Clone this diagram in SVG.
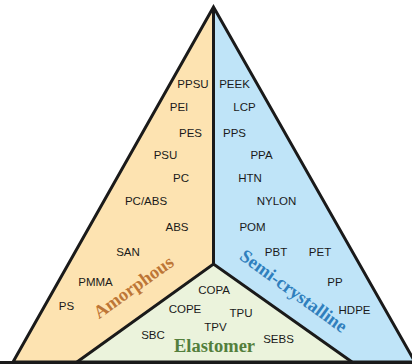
<svg xmlns="http://www.w3.org/2000/svg" width="412" height="364" viewBox="0 0 412 364">
<style>
.lbl{font-family:"Liberation Sans",Arial,sans-serif;font-size:11.5px;fill:#1a1a1a;text-anchor:middle}
.cat{font-family:"Liberation Serif","Times New Roman",serif;font-size:18.5px;font-weight:bold;text-anchor:middle}
.edge{fill:none;stroke:#1a1a1a;stroke-width:3;stroke-linejoin:miter}
</style>
<rect width="412" height="364" fill="#ffffff"/>
<g id="amorphous">
<polygon points="213.5,7 13,362 77,362 213.5,264" fill="#fde3b1"/>
</g>
<g id="semi-crystalline">
<polygon points="213.5,7 415,362 352,362 213.5,264" fill="#bfe4f8"/>
</g>
<g id="elastomer">
<polygon points="213.5,264 77,362 352,362" fill="#ebf3dc"/>
</g>
<g id="connectors">
<polygon class="edge" points="213.5,7 13,362 415,362"/>
<line class="edge" x1="213.5" y1="7" x2="213.5" y2="264"/>
<polyline class="edge" stroke-width="2.6" points="77,362 213.5,264 352,362"/>
<line class="edge" x1="0" y1="362.5" x2="412" y2="362.5"/>
</g>
<g id="amorphous-labels">
<text class="lbl" x="193" y="88">PPSU</text>
<text class="lbl" x="179" y="111">PEI</text>
<text class="lbl" x="190.5" y="137">PES</text>
<text class="lbl" x="165.5" y="159">PSU</text>
<text class="lbl" x="181" y="182">PC</text>
<text class="lbl" x="146" y="205">PC/ABS</text>
<text class="lbl" x="177" y="231">ABS</text>
<text class="lbl" x="128" y="256">SAN</text>
<text class="lbl" x="95.5" y="286">PMMA</text>
<text class="lbl" x="66.5" y="310">PS</text>
<text class="cat" x="137" y="292" fill="#bd7636" transform="rotate(-35.5 137 292)">Amorphous</text>
</g>
<g id="semi-crystalline-labels">
<text class="lbl" x="234.5" y="88">PEEK</text>
<text class="lbl" x="244.5" y="111">LCP</text>
<text class="lbl" x="234.5" y="137">PPS</text>
<text class="lbl" x="261.5" y="159">PPA</text>
<text class="lbl" x="250" y="182">HTN</text>
<text class="lbl" x="276.5" y="205">NYLON</text>
<text class="lbl" x="252.5" y="231">POM</text>
<text class="lbl" x="276" y="256">PBT</text>
<text class="lbl" x="320" y="256">PET</text>
<text class="lbl" x="335" y="286">PP</text>
<text class="lbl" x="354.5" y="314">HDPE</text>
<text class="cat" x="290" y="296" fill="#2f7fbd" transform="rotate(36 290 296)">Semi-crystalline</text>
</g>
<g id="elastomer-labels">
<text class="lbl" x="214" y="294">COPA</text>
<text class="lbl" x="185" y="313">COPE</text>
<text class="lbl" x="241" y="317">TPU</text>
<text class="lbl" x="215.5" y="331">TPV</text>
<text class="lbl" x="153" y="339">SBC</text>
<text class="lbl" x="278.5" y="343">SEBS</text>
<text class="cat" x="214.5" y="352" fill="#537f3c" font-size="19px">Elastomer</text>
</g>
</svg>
